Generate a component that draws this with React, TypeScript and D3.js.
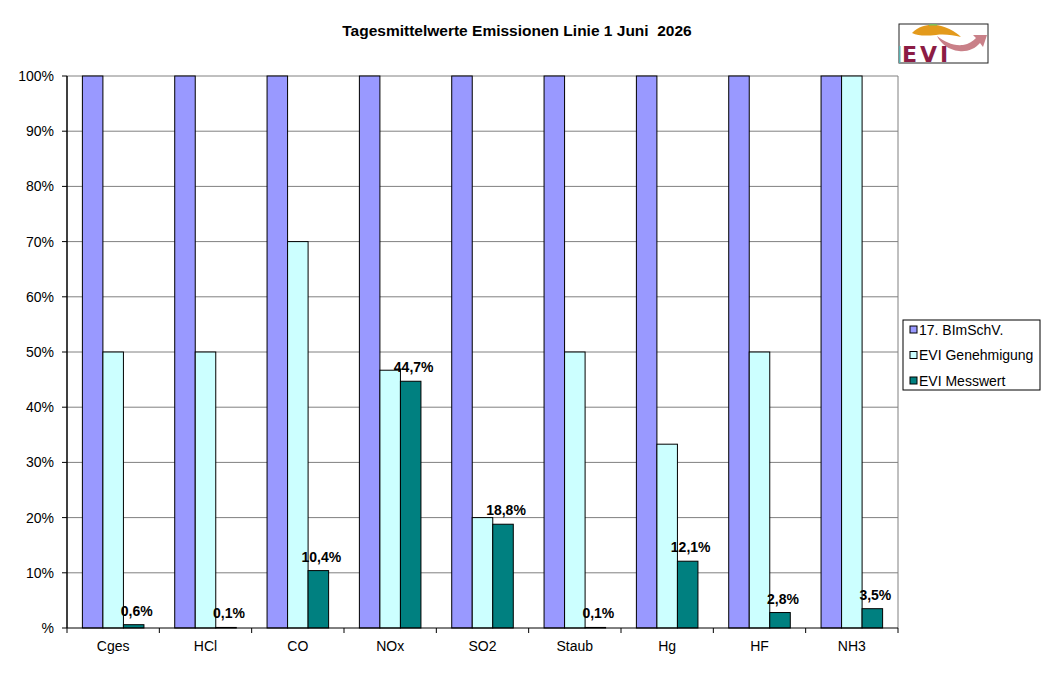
import { useEffect, useRef } from 'react'
import * as d3 from 'd3'

const categories = ['Cges', 'HCl', 'CO', 'NOx', 'SO2', 'Staub', 'Hg', 'HF', 'NH3']
const limitValues = [100, 100, 100, 100, 100, 100, 100, 100, 100]
const permitValues = [50, 50, 70, 46.7, 20, 50, 33.3, 50, 100]
const measuredValues = [0.6, 0.1, 10.4, 44.7, 18.8, 0.1, 12.1, 2.8, 3.5]
const yTicks = [0, 10, 20, 30, 40, 50, 60, 70, 80, 90, 100]

const seriesNames = ['17. BImSchV.', 'EVI Genehmigung', 'EVI Messwert']
const seriesColors = ['#9999ff', '#ccffff', '#008080']

const W = 1047
const H = 675
const FONT = 'Arial, "Liberation Sans", sans-serif'

export default function App() {
  const ref = useRef<SVGSVGElement>(null)

  useEffect(() => {
    document.body.style.margin = '0'
    if (!ref.current) return
    const svg = d3.select(ref.current)
    svg.selectAll('*').remove()

    const left = 67, right = 898, top = 76, bottom = 628

    const x = d3.scaleBand<string>().domain(categories).range([left, right])
      .paddingInner(1 / 3).paddingOuter(1 / 6)
    const step = x.step()
    const sub = d3.scaleBand<number>().domain([0, 1, 2]).range([0, x.bandwidth()])
    const y = d3.scaleLinear().domain([0, 100]).range([bottom, top])

    // title
    svg.append('text')
      .attr('x', 517).attr('y', 36)
      .attr('text-anchor', 'middle')
      .attr('font-family', FONT).attr('font-size', 15.5).attr('font-weight', 'bold')
      .attr('fill', '#000')
      .attr('xml:space', 'preserve')
      .text('Tagesmittelwerte Emissionen Linie 1 Juni  2026')

    // gridlines
    svg.append('g').selectAll('line')
      .data(yTicks.filter(t => t > 0))
      .enter().append('line')
      .attr('x1', left).attr('x2', right)
      .attr('y1', d => y(d)).attr('y2', d => y(d))
      .attr('stroke', '#808080').attr('stroke-width', 1)

    // right border
    svg.append('line')
      .attr('x1', right).attr('x2', right).attr('y1', top).attr('y2', bottom)
      .attr('stroke', '#808080').attr('stroke-width', 1)

    // bars
    const series = [limitValues, permitValues, measuredValues]
    series.forEach((vals, si) => {
      svg.append('g').selectAll('rect')
        .data(vals)
        .enter().append('rect')
        .attr('x', (d, i) => (x(categories[i]) ?? 0) + (sub(si) ?? 0))
        .attr('y', d => y(d))
        .attr('width', sub.bandwidth())
        .attr('height', d => bottom - y(d))
        .attr('fill', seriesColors[si])
        .attr('stroke', '#000').attr('stroke-width', 1)
    })

    // data labels
    svg.append('g').selectAll('text')
      .data(measuredValues)
      .enter().append('text')
      .attr('x', (d, i) => (x(categories[i]) ?? 0) + (sub(2) ?? 0) + sub.bandwidth() / 2 + 3)
      .attr('y', d => y(d) - 9)
      .attr('text-anchor', 'middle')
      .attr('font-family', FONT).attr('font-size', 14).attr('font-weight', 'bold')
      .attr('fill', '#000')
      .text(d => d.toFixed(1).replace('.', ',') + '%')

    // axes
    svg.append('line')
      .attr('x1', left).attr('x2', left).attr('y1', top).attr('y2', bottom)
      .attr('stroke', '#000').attr('stroke-width', 1.5)
    svg.append('line')
      .attr('x1', left).attr('x2', right).attr('y1', bottom).attr('y2', bottom)
      .attr('stroke', '#000').attr('stroke-width', 1)

    const yAxis = svg.append('g')
    yAxis.selectAll('line')
      .data(yTicks)
      .enter().append('line')
      .attr('x1', left - 5).attr('x2', left)
      .attr('y1', d => y(d)).attr('y2', d => y(d))
      .attr('stroke', '#000')
    yAxis.selectAll('text')
      .data(yTicks)
      .enter().append('text')
      .attr('x', 54).attr('y', d => y(d) + 5)
      .attr('text-anchor', 'end')
      .attr('font-family', FONT).attr('font-size', 14)
      .attr('fill', '#000')
      .text(d => (d === 0 ? '%' : `${d}%`))

    const xAxis = svg.append('g')
    xAxis.selectAll('line')
      .data(d3.range(categories.length + 1))
      .enter().append('line')
      .attr('x1', i => left + i * step).attr('x2', i => left + i * step)
      .attr('y1', bottom).attr('y2', bottom + 5)
      .attr('stroke', '#000')
    xAxis.selectAll('text')
      .data(categories)
      .enter().append('text')
      .attr('x', d => (x(d) ?? 0) + x.bandwidth() / 2)
      .attr('y', 651)
      .attr('text-anchor', 'middle')
      .attr('font-family', FONT).attr('font-size', 14)
      .attr('fill', '#000')
      .text(d => d)

    // legend
    const lg = svg.append('g').attr('transform', 'translate(903,320)')
    lg.append('rect')
      .attr('width', 137).attr('height', 70)
      .attr('fill', '#fff').attr('stroke', '#000').attr('stroke-width', 1)
    seriesNames.forEach((name, i) => {
      const row = lg.append('g').attr('transform', `translate(7,${6 + i * 25.5})`)
      row.append('rect')
        .attr('width', 7).attr('height', 7)
        .attr('fill', seriesColors[i]).attr('stroke', '#000').attr('stroke-width', 1)
      row.append('text')
        .attr('x', 9).attr('y', 8.5)
        .attr('font-family', FONT).attr('font-size', 14)
        .attr('fill', '#000')
        .text(name)
    })

    // logo
    const logo = svg.append('g').attr('transform', 'translate(899,24)')
    logo.append('rect')
      .attr('width', 89).attr('height', 39)
      .attr('fill', '#fff').attr('stroke', '#222').attr('stroke-width', 1)
    logo.append('path')
      .attr('d', 'M13,9 C20,2 28,0.5 35,0.8 C46,2 56,7 62,13 C54,11 45,10 37,11 C27,12 19,12 13,9 Z')
      .attr('fill', '#e39a1c')
    logo.append('path')
      .attr('d', 'M30,1 C32,0.3 36,0.3 38,1 Z')
      .attr('fill', '#7cc05a').attr('stroke', '#7cc05a').attr('stroke-width', 1)
    logo.append('path')
      .attr('d', 'M38,12 C46,18 54,22 64,21 C70,20 74,17 77,14 L74,11 L88,11 L84,23 L81,19 C76,25 68,28 60,27 C50,26 42,20 38,12 Z')
      .attr('fill', '#c98088')
    logo.append('text')
      .attr('x', 3).attr('y', 38)
      .attr('font-family', '"DejaVu Sans", sans-serif').attr('font-size', 22).attr('font-weight', 'bold')
      .attr('letter-spacing', 3)
      .attr('fill', '#8c1c44')
      .text('EVI')
    logo.append('rect')
      .attr('x', 0).attr('y', 22).attr('width', 1.5).attr('height', 17)
      .attr('fill', '#5bb0b0')
  }, [])

  return <svg ref={ref} width={W} height={H} style={{ display: 'block', background: '#fff' }} />
}
